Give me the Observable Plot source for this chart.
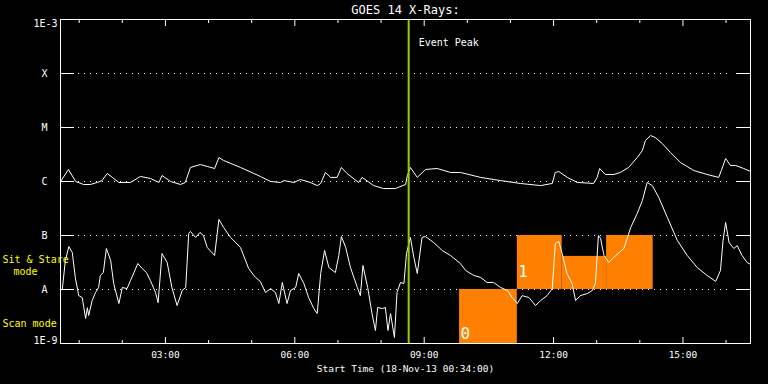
<!DOCTYPE html>
<html><head><meta charset="utf-8">
<script src="https://cdn.jsdelivr.net/npm/d3@7"></script>
<script src="https://cdn.jsdelivr.net/npm/@observablehq/plot@0.6"></script>
<style>html,body{margin:0;padding:0;background:#000;} #chart{width:768px;height:384px;}</style>
</head><body><div id="chart"></div>
<script>
// ---- data ----
const chartTitle = "GOES 14 X-Rays:";
const xTitle = "Start Time (18-Nov-13 00:34:00)";
const startHour = 34 / 60;
const endHour = 16 + 34 / 60;
const eventPeakHour = 8.64;
const eventLabel = "Event Peak";

const levelValues = [1e-3, 1e-4, 1e-5, 1e-6, 1e-7, 1e-8, 1e-9];
const levelLabels = ["1E-3", "X", "M", "C", "B", "A", "1E-9"];
const gridLevels = [1e-4, 1e-5, 1e-6, 1e-7, 1e-8];
const majorHours = [3, 6, 9, 12, 15];
const minorHours = [1, 2, 4, 5, 7, 8, 10, 11, 13, 14, 16];

// long channel (upper curve): [hour of day, W/m^2]
const longChannel = [
  [0.57,1.0e-6],[0.75,1.67e-6],[0.92,1.0e-6],[1.10,8.8e-7],[1.26,8.8e-7],[1.42,9.6e-7],
  [1.53,1.04e-6],[1.65,1.41e-6],[1.77,1.19e-6],[1.92,9.6e-7],[2.19,9.6e-7],[2.42,1.24e-6],
  [2.65,1.14e-6],[2.85,9.6e-7],[2.92,1.29e-6],[3.12,1.0e-6],[3.35,8.8e-7],[3.46,9.6e-7],
  [3.58,1.82e-6],[3.81,2.06e-6],[3.97,1.90e-6],[4.14,1.74e-6],[4.24,2.78e-6],[4.35,2.45e-6],
  [4.74,1.82e-6],[5.05,1.41e-6],[5.20,1.24e-6],[5.44,1.0e-6],[5.67,9.6e-7],[5.75,1.04e-6],
  [5.98,9.6e-7],[6.13,1.09e-6],[6.36,9.6e-7],[6.52,8.4e-7],[6.60,9.2e-7],[6.71,1.47e-6],
  [6.83,1.19e-6],[6.98,1.19e-6],[7.08,1.82e-6],[7.21,1.41e-6],[7.48,9.6e-7],[7.56,1.19e-6],
  [7.83,8.4e-7],[8.06,7.4e-7],[8.33,7.4e-7],[8.57,8.8e-7],[8.61,1.29e-6],[8.68,1.82e-6],
  [8.84,1.19e-6],[9.03,1.67e-6],[9.30,1.74e-6],[9.61,1.47e-6],[9.84,1.47e-6],[10.31,1.19e-6],
  [10.77,1.04e-6],[11.23,9.2e-7],[11.70,8.4e-7],[11.97,9.2e-7],[12.04,1.47e-6],[12.12,1.53e-6],
  [12.32,1.19e-6],[12.55,9.6e-7],[12.93,9.2e-7],[13.01,1.19e-6],[13.07,1.74e-6],[13.20,1.35e-6],
  [13.40,1.35e-6],[13.55,1.47e-6],[13.74,1.82e-6],[13.94,2.78e-6],[14.06,3.75e-6],[14.13,5.74e-6],
  [14.25,7.1e-6],[14.36,6.5e-6],[14.52,5.05e-6],[14.71,3.44e-6],[14.94,2.25e-6],[15.25,1.60e-6],
  [15.56,1.35e-6],[15.83,1.19e-6],[15.89,1.60e-6],[15.99,2.67e-6],[16.10,1.98e-6],[16.22,1.98e-6],
  [16.41,1.74e-6],[16.57,1.53e-6]
];

// short channel (lower curve): [hour of day, W/m^2]
const shortChannel = [
  [0.61,1.04e-8],[0.68,3.44e-8],[0.76,6.25e-8],[0.84,4.84e-8],[0.91,1.67e-8],[0.99,7.7e-9],
  [1.07,7.1e-9],[1.15,2.9e-9],[1.19,4.6e-9],[1.22,3.3e-9],[1.30,6.25e-9],[1.38,8.8e-9],
  [1.45,1.09e-8],[1.49,1.82e-8],[1.56,2.06e-8],[1.63,5.74e-8],[1.73,3.44e-8],[1.80,1.29e-8],
  [1.92,5.5e-9],[2.00,1.09e-8],[2.11,1.04e-8],[2.19,1.47e-8],[2.27,2.06e-8],[2.36,3.03e-8],
  [2.46,2.45e-8],[2.56,2.06e-8],[2.65,1.47e-8],[2.77,8.8e-9],[2.83,5.7e-9],[2.92,4.64e-8],
  [3.04,3.16e-8],[3.15,1.09e-8],[3.27,5.05e-9],[3.39,9.6e-9],[3.47,1.09e-8],[3.54,1.09e-7],
  [3.58,1.19e-7],[3.70,9.2e-8],[3.80,1.14e-7],[3.88,1.0e-7],[3.97,6.0e-8],[4.14,4.26e-8],
  [4.24,1.98e-7],[4.35,1.41e-7],[4.51,9.2e-8],[4.74,6.0e-8],[4.93,2.45e-8],[5.05,1.82e-8],
  [5.09,1.67e-8],[5.20,1.41e-8],[5.32,8.8e-9],[5.44,1.04e-8],[5.55,8.8e-9],[5.63,5.5e-9],
  [5.71,1.35e-8],[5.82,5.5e-9],[5.90,9.6e-9],[6.02,1.09e-8],[6.09,1.98e-8],[6.21,1.29e-8],
  [6.32,7.1e-9],[6.44,4.45e-9],[6.52,3.59e-9],[6.60,1.98e-8],[6.69,5.27e-8],[6.79,2.56e-8],
  [6.94,2.06e-8],[7.02,4.26e-8],[7.08,9.6e-8],[7.18,6.0e-8],[7.29,2.56e-8],[7.45,1.09e-8],
  [7.52,7.7e-9],[7.58,2.78e-8],[7.69,1.09e-8],[7.79,3.59e-9],[7.87,1.74e-9],[7.92,4.64e-9],
  [8.03,4.45e-9],[8.10,4.64e-9],[8.16,1.74e-9],[8.22,3.59e-9],[8.31,1.29e-9],[8.37,8.8e-9],
  [8.45,1.35e-8],[8.53,1.29e-8],[8.59,4.64e-8],[8.68,9.2e-8],[8.76,3.91e-8],[8.84,1.98e-8],
  [8.95,9.2e-8],[9.03,9.6e-8],[9.22,7.4e-8],[9.42,5.27e-8],[9.61,4.26e-8],[9.84,3.03e-8],
  [9.96,2.25e-8],[10.15,1.82e-8],[10.31,1.67e-8],[10.46,1.35e-8],[10.61,1.35e-8],[10.77,1.09e-8],
  [10.93,9.6e-9],[11.04,7.1e-9],[11.16,5.5e-9],[11.27,7.7e-9],[11.43,7.1e-9],[11.58,5.05e-9],
  [11.70,6.25e-9],[11.85,7.7e-9],[11.97,1.04e-8],[12.04,7.1e-8],[12.12,7.74e-8],[12.20,4.64e-8],
  [12.31,1.98e-8],[12.43,1.29e-8],[12.51,6.25e-9],[12.62,7.7e-9],[12.78,8.4e-9],[12.90,9.6e-9],
  [12.97,1.29e-8],[13.04,1.0e-7],[13.09,8.8e-8],[13.17,4.26e-8],[13.28,3.16e-8],[13.44,4.26e-8],
  [13.63,5.74e-8],[13.79,1.41e-7],[13.94,2.56e-7],[14.06,4.45e-7],[14.17,9.6e-7],[14.29,8.4e-7],
  [14.44,5.05e-7],[14.64,2.15e-7],[14.87,8.1e-8],[15.10,4.26e-8],[15.33,2.56e-8],[15.56,1.82e-8],
  [15.76,1.41e-8],[15.87,2.25e-8],[15.93,8.1e-8],[15.99,1.74e-7],[16.07,7.4e-8],[16.18,5.74e-8],
  [16.26,6.5e-8],[16.37,4.26e-8],[16.49,3.16e-8],[16.57,2.9e-8]
];

// observing-mode blocks
const modeStart = [9.82, 11.16, 12.20, 13.23];
const modeEnd   = [11.16, 12.20, 13.23, 14.31];
const modeLow   = [1e-9, 1e-8, 1e-8, 1e-8];
const modeHigh  = [1e-8, 1e-7, 4.1e-8, 1e-7];
const modeNames = ["0", "1"];
const modeNameHour = [9.82, 11.16];
const modeNameFlux = [1.5e-9, 2.1e-8];
const sideLabels = ["Sit & Stare", "mode", "Scan mode"];
const sideLabelFlux = [3.6e-8, 2.15e-8, 2.35e-9];

// ---- build ----
const T = h => new Date(Date.UTC(2013, 10, 18) + h * 3600000);
const fmt = d3.utcFormat("%H:%M");
const blocks = modeStart.map((s, i) => ({s: T(s), e: T(modeEnd[i]), lo: modeLow[i], hi: modeHigh[i]}));
const modeTexts = modeNames.map((n, i) => ({n, t: T(modeNameHour[i]), f: modeNameFlux[i]}));
const levels = levelValues.map((v, i) => ({v, label: levelLabels[i]}));
const sides = sideLabels.map((s, i) => ({s, f: sideLabelFlux[i], indent: i === 1}));
const W = 690, H = 324;

const chart = Plot.plot({
  width: 768, height: 384,
  marginLeft: 60, marginRight: 18, marginTop: 19, marginBottom: 41,
  style: {background: "black", color: "white", fontFamily: "DejaVu Sans Mono", fontSize: "10px"},
  x: {type: "utc", domain: [T(startHour), T(endHour)], axis: null},
  y: {type: "log", domain: [1e-9, 1e-3], axis: null},
  marks: [
    Plot.ruleY(gridLevels, {stroke: "white", strokeDasharray: "1,5", insetLeft: 18, insetRight: 18}),
    Plot.ruleY(gridLevels, {stroke: "white", insetRight: W - 14}),
    Plot.ruleY(gridLevels, {stroke: "white", insetLeft: W - 14}),
    Plot.tickX(majorHours, {x: d => T(d), stroke: "white", insetTop: H - 6}),
    Plot.tickX(minorHours, {x: d => T(d), stroke: "white", insetTop: H - 3}),
    Plot.tickX(majorHours, {x: d => T(d), stroke: "white", insetBottom: H - 7}),
    Plot.tickX(minorHours, {x: d => T(d), stroke: "white", insetBottom: H - 4}),
    Plot.rect(blocks, {x1: "s", x2: "e", y1: "lo", y2: "hi", fill: "#ff8000"}),
    Plot.text(modeTexts, {x: "t", y: "f", text: "n", textAnchor: "start", dx: 1, fontSize: 16, fill: "white"}),
    Plot.line(longChannel, {x: d => T(d[0]), y: d => d[1], stroke: "white", strokeWidth: 1}),
    Plot.line(shortChannel, {x: d => T(d[0]), y: d => d[1], stroke: "white", strokeWidth: 1}),
    Plot.ruleX([eventPeakHour], {x: d => T(d), stroke: "#99cc00", strokeWidth: 2}),
    Plot.text([eventLabel], {x: () => T(eventPeakHour), frameAnchor: "top", lineAnchor: "middle", dy: 23.5, dx: 10, textAnchor: "start", text: d => d, fill: "white"}),
    Plot.text(levels.filter(d => d.label.length === 1), {y: "v", text: "label", frameAnchor: "left", textAnchor: "middle", dx: -16, fill: "white"}),
    Plot.text(levels.filter(d => d.v === 1e-3), {y: "v", text: "label", frameAnchor: "left", textAnchor: "end", dx: -3, dy: 4, fill: "white"}),
    Plot.text(levels.filter(d => d.v === 1e-9), {y: "v", text: "label", frameAnchor: "left", textAnchor: "end", dx: -3, dy: -3, fill: "white"}),
    Plot.text(majorHours, {x: d => T(d), text: d => fmt(T(d)), frameAnchor: "bottom", lineAnchor: "middle", dy: 11, fontSize: 9.5, fill: "white"}),
    Plot.text([xTitle], {frameAnchor: "bottom", lineAnchor: "middle", dy: 25, text: d => d, fontSize: 9.5, fill: "white"}),
    Plot.text([chartTitle], {frameAnchor: "top", lineAnchor: "middle", dy: -9.5, text: d => d, fontSize: 12, fill: "white"}),
    Plot.text(sides.filter(d => !d.indent), {y: "f", text: "s", frameAnchor: "left", textAnchor: "start", dx: -58, fill: "#ffff00"}),
    Plot.text(sides.filter(d => d.indent), {y: "f", text: "s", frameAnchor: "left", textAnchor: "start", dx: -47, fill: "#ffff00"}),
    Plot.frame({stroke: "white"})
  ]
});
document.getElementById("chart").appendChild(chart);
</script></body></html>
